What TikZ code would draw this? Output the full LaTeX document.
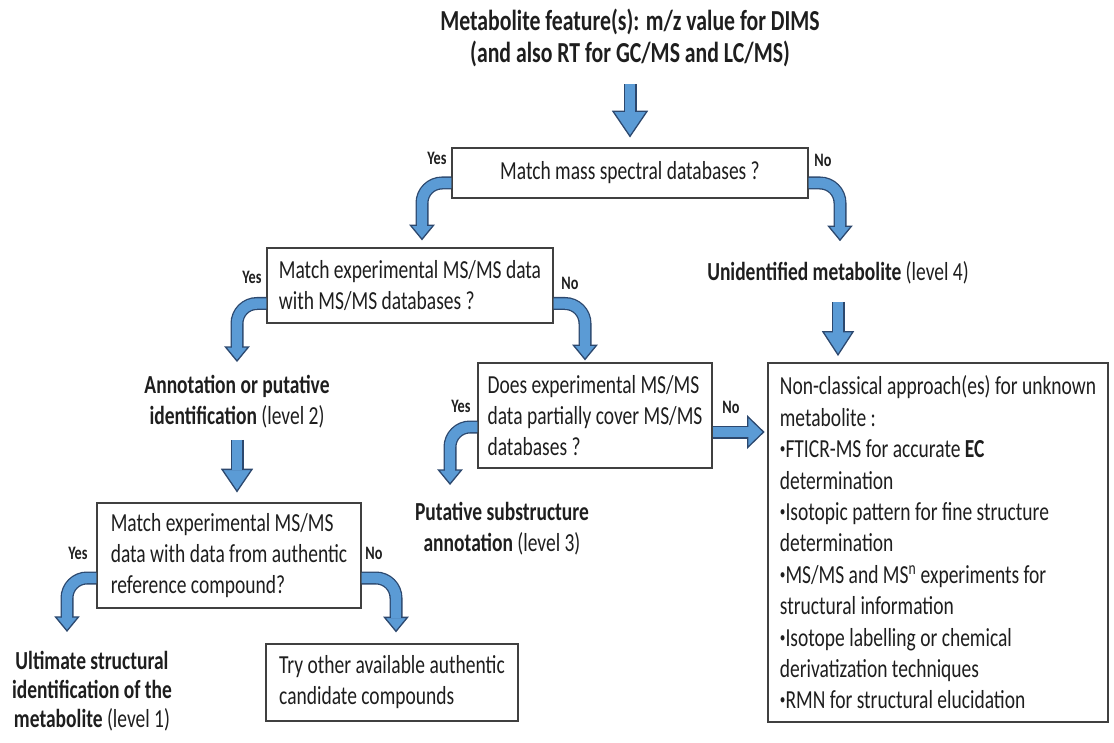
\documentclass[tikz,border=0pt]{standalone}
\usepackage{fontspec}
\setmainfont{Carlito}[FakeStretch=0.75]
\usetikzlibrary{decorations.markings}
\definecolor{arrowblue}{RGB}{91,155,213}
\definecolor{arrowedge}{RGB}{44,72,110}
\definecolor{boxedge}{RGB}{64,64,64}
\definecolor{ink}{RGB}{30,30,30}
\newcommand\dotitem{\raisebox{4pt}{\fontsize{15}{15}\selectfont •}}
\begin{document}
\begin{tikzpicture}[x=1pt, y=1pt,
  every node/.style={text=ink, font=\fontsize{26}{31}\selectfont},
  box/.style={draw=boxedge, line width=1.3pt, fill=white, align=left},
  tag/.style={font=\bfseries\fontsize{19}{20}\selectfont},
  outcome/.style={align=center},
  fat/.style 2 args={draw=arrowblue, line width=10.4pt, rounded corners=20pt,
    preaction={draw=arrowedge, line width=13pt},
    postaction={decorate, decoration={markings, mark=at position 1 with {
      \filldraw[sharp corners, fill=arrowblue, draw=arrowedge, line width=1.3pt, line join=miter]
        (0,#1/2) -- (#2,0) -- (0,-#1/2) -- cycle;
      \fill[sharp corners, arrowblue] (-1.5pt,-5.2pt) rectangle (1pt,5.2pt);}}}}]
  \useasboundingbox (0,0) rectangle (1114,-743);
  \node[font=\bfseries\fontsize{29}{32}\selectfont, align=center] (feat) at (630,-38)
    {Metabolite feature(s): m/z value for DIMS\\(and also RT for GC/MS and LC/MS)};
  \node[box, minimum width=356pt, minimum height=50pt] (q1) at (630,-173) {Match mass spectral databases ?};
  \node[tag] (y1) at (437,-158) {Yes};
  \node[tag] (n1) at (823,-160) {No};
  \node (unid) at (838,-273) {\textbf{Unidentified metabolite} (level 4)};
  \node[box, minimum width=286pt, minimum height=75pt] (q2) at (410,-285.5)
    {Match experimental MS/MS data\\with MS/MS databases ?};
  \node[tag] (y2) at (252,-277) {Yes};
  \node[tag] (n2) at (570,-283) {No};
  \node[outcome] (ann) at (237,-402) {\textbf{Annotation or putative}\\\textbf{identification} (level 2)};
  \node[box, minimum width=234pt, minimum height=105pt] (q3) at (595,-415.5)
    {Does experimental MS/MS\\data partially cover MS/MS\\databases ?};
  \node[tag] (y3) at (461,-406) {Yes};
  \node[tag] (n3) at (731,-407) {No};
  \node[outcome] (sub) at (502,-529) {\textbf{Putative substructure}\\\textbf{annotation} (level 3)};
  \node[box, minimum width=340pt, minimum height=359pt, font=\fontsize{26}{31.4}\selectfont] (nonc) at (938,-542.5)
    {Non-classical approach(es) for unknown\\
     metabolite :\\
     \dotitem FTICR-MS for accurate \textbf{EC}\\
     determination\\
     \dotitem Isotopic pattern for fine structure\\
     determination\\
     \dotitem MS/MS and MS\textsuperscript{n} experiments for\\
     structural information\\
     \dotitem Isotope labelling or chemical\\
     derivatization techniques\\
     \dotitem RMN for structural elucidation};
  \node[box, minimum width=264pt, minimum height=105pt] (q4) at (229,-555.5)
    {Match experimental MS/MS\\data with data from authentic\\reference compound?};
  \node[tag] (y4) at (78,-553) {Yes};
  \node[tag] (n4) at (374,-553) {No};
  \node[outcome, font=\fontsize{26}{29}\selectfont] (ult) at (92,-691)
    {\textbf{Ultimate structural}\\\textbf{identification of the}\\\textbf{metabolite} (level 1)};
  \node[box, minimum width=252pt, minimum height=77pt] (try) at (392,-682.5)
    {Try other available authentic\\candidate compounds};
  % block arrows
  \draw[fat={34pt}{25pt}] ([yshift=63pt]q1.north) -- ++(0,-27);
  \draw[fat={23pt}{14pt}] ([yshift=-10pt]q1.west) -| ([xshift=12pt,yshift=22pt]q2.north);
  \draw[fat={23pt}{14pt}] ([yshift=-10pt]q1.east) -| ([xshift=2pt,yshift=32pt]unid.north);
  \draw[fat={30pt}{23pt}] ([yshift=-14pt]unid.south) -- ++(0,-30);
  \draw[fat={23pt}{14pt}] ([yshift=-18pt]q2.west) -| ([yshift=25pt]ann.north);
  \draw[fat={23pt}{14pt}] ([yshift=-18pt]q2.east) -| ([xshift=-10pt,yshift=17pt]q3.north);
  \draw[fat={30pt}{22pt}] ([yshift=-8pt]ann.south) -- ([xshift=8pt,yshift=33pt]q4.north);
  \draw[fat={23pt}{14pt}] ([yshift=-11.5pt]q3.west) -| ([xshift=-52pt,yshift=29pt]sub.north);
  \draw[fat={31pt}{16pt}] ([yshift=-16.5pt]q3.east) -- ++(35,0);
  \draw[fat={23pt}{14pt}] ([yshift=-22.5pt]q4.west) -| ([xshift=-25pt,yshift=30.6pt]ult.north);
  \draw[fat={23pt}{14pt}] ([yshift=-22.5pt]q4.east) -| ([xshift=4pt,yshift=26pt]try.north);
\end{tikzpicture}
\end{document}
